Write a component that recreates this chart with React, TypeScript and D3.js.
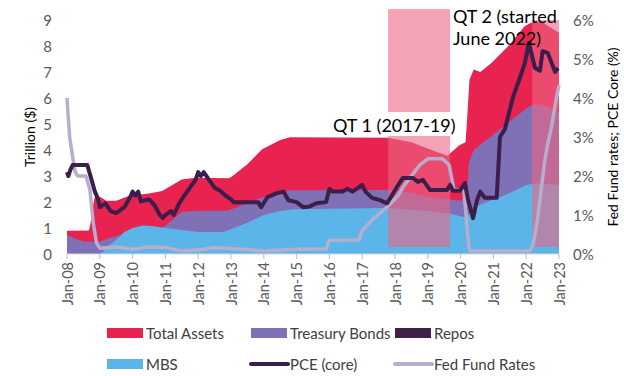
import React from "react";
import * as d3 from "d3";

// ---- Data (dates as decimal years) ----
const years = d3.range(2008, 2024);
const leftTicks = [0, 1, 2, 3, 4, 5, 6, 7, 8, 9];
const rightTicks = [0, 1, 2, 3, 4, 5, 6];

const totalAssets: [number, number][] = [
  [2008.0, 0.89], [2008.67, 0.9], [2008.72, 1.2], [2008.78, 1.8], [2008.85, 2.2], [2009.0, 2.2],
  [2009.2, 2.05], [2009.5, 2.05], [2009.9, 2.24], [2010.5, 2.33], [2010.9, 2.42], [2011.5, 2.87],
  [2011.9, 2.93], [2012.9, 2.91], [2013.0, 2.95], [2013.5, 3.45], [2013.95, 4.03], [2014.5, 4.38],
  [2014.8, 4.49], [2017.8, 4.47], [2018.5, 4.3], [2018.95, 4.08], [2019.6, 3.78], [2019.95, 4.17],
  [2020.15, 4.3], [2020.2, 5.2], [2020.27, 6.7], [2020.4, 7.1], [2020.6, 7.0], [2020.95, 7.36],
  [2021.5, 8.06], [2021.95, 8.76], [2022.25, 8.96], [2022.5, 8.9], [2022.95, 8.55], [2023.0, 8.5],
];

const repos: [number, number][] = [
  [2008.0, 0.04], [2008.5, 0.1], [2008.9, 0.08], [2009.5, 0], [2019.7, 0], [2019.8, 0.2],
  [2020.0, 0.25], [2020.3, 0.1], [2020.5, 0], [2023.0, 0],
];

const treasury: [number, number][] = [
  [2008.0, 0.74], [2008.25, 0.6], [2008.5, 0.48], [2009.0, 0.48], [2009.25, 0.6], [2009.75, 0.77],
  [2010.0, 0.78], [2010.75, 0.8], [2010.9, 1.0], [2011.0, 1.1], [2011.5, 1.62], [2012.0, 1.66],
  [2012.9, 1.66], [2013.5, 1.95], [2014.0, 2.2], [2014.8, 2.45], [2017.8, 2.46], [2018.5, 2.35],
  [2019.0, 2.2], [2019.7, 2.1], [2020.0, 2.05], [2020.2, 2.2], [2020.25, 3.5], [2020.4, 4.0],
  [2021.0, 4.6], [2021.5, 5.1], [2022.0, 5.6], [2022.2, 5.75], [2022.5, 5.75], [2023.0, 5.45],
];

const mbs: [number, number][] = [
  [2008.0, 0], [2009.0, 0], [2009.1, 0.1], [2009.25, 0.3], [2009.5, 0.55], [2009.75, 0.85],
  [2010.0, 1.0], [2010.3, 1.1], [2010.6, 1.08], [2011.0, 1.0], [2011.5, 0.92], [2012.0, 0.85],
  [2012.75, 0.85], [2013.0, 0.95], [2013.5, 1.2], [2014.0, 1.5], [2014.5, 1.65], [2014.9, 1.72],
  [2017.8, 1.77], [2018.5, 1.7], [2019.0, 1.65], [2019.7, 1.55], [2020.15, 1.4], [2020.3, 1.6],
  [2020.5, 1.85], [2021.0, 2.1], [2021.5, 2.35], [2022.0, 2.65], [2022.3, 2.72], [2023.0, 2.65],
];

const pceCore: [number, number][] = [
  [2008.0, 2.1], [2008.04, 2.0], [2008.1, 2.15], [2008.17, 2.28], [2008.4, 2.28], [2008.62, 2.28],
  [2008.75, 1.9], [2008.85, 1.6], [2008.95, 1.4], [2009.0, 1.2], [2009.17, 1.3], [2009.33, 1.1],
  [2009.5, 1.05], [2009.75, 1.2], [2009.92, 1.45], [2010.0, 1.6], [2010.08, 1.5], [2010.17, 1.6],
  [2010.25, 1.35], [2010.5, 1.4], [2010.67, 1.25], [2010.83, 1.0], [2010.92, 0.92], [2011.0, 1.0],
  [2011.17, 1.1], [2011.25, 1.0], [2011.42, 1.3], [2011.58, 1.5], [2011.75, 1.7], [2011.92, 1.9],
  [2012.0, 2.1], [2012.08, 2.0], [2012.17, 2.1], [2012.33, 1.9], [2012.5, 1.7], [2012.67, 1.62],
  [2012.83, 1.5], [2013.0, 1.4], [2013.08, 1.33], [2013.5, 1.33], [2013.83, 1.33], [2013.92, 1.2],
  [2014.1, 1.45], [2014.4, 1.56], [2014.6, 1.6], [2014.75, 1.38], [2015.0, 1.33], [2015.2, 1.2],
  [2015.4, 1.22], [2015.6, 1.3], [2015.9, 1.33], [2016.0, 1.67], [2016.1, 1.6], [2016.4, 1.6],
  [2016.55, 1.67], [2016.7, 1.6], [2017.0, 1.77], [2017.1, 1.6], [2017.3, 1.44], [2017.54, 1.38],
  [2017.76, 1.3], [2018.06, 1.72], [2018.24, 1.95], [2018.55, 1.95], [2018.7, 1.85], [2018.85, 1.9],
  [2019.07, 1.64], [2019.58, 1.64], [2019.68, 1.77], [2019.77, 1.62], [2019.98, 1.62], [2020.13, 1.82],
  [2020.23, 1.38], [2020.38, 0.92], [2020.5, 1.38], [2020.6, 1.6], [2020.74, 1.44], [2021.1, 1.44],
  [2021.2, 3.0], [2021.35, 3.2], [2021.6, 4.03], [2021.8, 4.5], [2021.96, 4.9], [2022.08, 5.41],
  [2022.27, 4.77], [2022.42, 4.7], [2022.5, 5.2], [2022.66, 5.15], [2022.88, 4.67], [2022.97, 4.77],
];

const fedFunds: [number, number][] = [
  [2008.0, 4.0], [2008.08, 3.0], [2008.17, 2.5], [2008.25, 2.1], [2008.33, 2.0], [2008.58, 2.0],
  [2008.7, 1.64], [2008.8, 0.8], [2008.9, 0.28], [2009.0, 0.15], [2009.5, 0.18], [2010.0, 0.12],
  [2010.5, 0.18], [2011.0, 0.17], [2011.5, 0.08], [2012.0, 0.1], [2012.5, 0.16], [2013.0, 0.14],
  [2014.0, 0.08], [2015.0, 0.12], [2015.9, 0.13], [2016.0, 0.35], [2016.9, 0.36], [2017.0, 0.6],
  [2017.3, 0.87], [2017.75, 1.2], [2018.1, 1.5], [2018.25, 1.72], [2018.75, 2.28], [2019.0, 2.44],
  [2019.45, 2.44], [2019.65, 2.28], [2019.8, 1.64], [2020.1, 1.64], [2020.25, 0.18], [2020.3, 0.08],
  [2021.0, 0.08], [2022.1, 0.08], [2022.2, 0.2], [2022.33, 0.8], [2022.45, 1.6], [2022.55, 2.3],
  [2022.65, 2.8], [2022.78, 3.3], [2022.9, 3.9], [2023.0, 4.33],
];

// shaded QT periods: [start, end, low, high] in left-axis units
const qtPeriods: [number, number, number, number][] = [
  [2017.79, 2019.68, 0.27, 9.42],
  [2022.18, 2023.0, 0.27, 9.0],
];

const legendItems = [
  { label: "Total Assets", color: "#e8234f", kind: "box" },
  { label: "Treasury Bonds", color: "#8070b5", kind: "box" },
  { label: "Repos", color: "#3d2147", kind: "box" },
  { label: "MBS", color: "#5bb5e8", kind: "box" },
  { label: "PCE (core)", color: "#3b1f4a", kind: "line" },
  { label: "Fed Fund Rates", color: "#b8adcc", kind: "line" },
];

const fmtYear = (y: number) => `Jan-${String(y % 100).padStart(2, "0")}`;

export default function App() {
  const W = 624, H = 376;
  const font = "Lato, 'Open Sans', sans-serif";
  const x = d3.scaleLinear().domain([2008, 2023]).range([67, 559]);
  const yL = d3.scaleLinear().domain([0, 9]).range([254, 20]);
  const yR = d3.scaleLinear().domain([0, 6]).range([254, 20]);

  const areaL = d3.area<[number, number]>().x(d => x(d[0])).y0(yL(0)).y1(d => yL(d[1]));
  const lineR = d3.line<[number, number]>().x(d => x(d[0])).y(d => yR(d[1])).curve(d3.curveLinear);

  const legX = [107, 251, 395];
  const legY = [333, 364];

  return (
    <div style={{ position: "fixed", left: 0, top: 0, width: W, height: H, background: "#fff" }}>
      <svg width={W} height={H} style={{ display: "block", fontFamily: font }}>
        <rect width={W} height={H} fill="#fff" />
        {/* areas */}
        <path d={areaL(totalAssets) || ""} fill="#e8234f" />
        <path d={areaL(repos) || ""} fill="#3d2147" />
        <path d={areaL(treasury) || ""} fill="#8070b5" />
        <path d={areaL(mbs) || ""} fill="#5bb5e8" />

        {/* QT shading */}
        {qtPeriods.map((q, i) => (
          <rect key={i} x={x(q[0])} width={x(q[1]) - x(q[0])} y={yL(q[3])} height={yL(q[2]) - yL(q[3])}
            fill="rgb(237,102,133)" fillOpacity={0.6} />
        ))}

        {/* lines */}
        <path d={lineR(fedFunds) || ""} fill="none" stroke="#b8adcc" strokeWidth={3.5} strokeLinejoin="round" />
        <path d={lineR(pceCore) || ""} fill="none" stroke="#3b1f4a" strokeWidth={4} strokeLinejoin="round" />

        {/* x axis */}
        <line x1={x(2008)} x2={x(2023)} y1={yL(0)} y2={yL(0)} stroke="#d9d9d9" strokeWidth={1} />
        {years.map(yr => (
          <g key={yr}>
            <line x1={x(yr)} x2={x(yr)} y1={yL(0)} y2={yL(0) + 5} stroke="#bfbfbf" />
            <text transform={`translate(${x(yr)},${yL(0) + 8}) rotate(-90)`} textAnchor="end"
              dominantBaseline="central" fontSize={14.5} fill="#595959">{fmtYear(yr)}</text>
          </g>
        ))}

        {/* left axis */}
        {leftTicks.map(t => (
          <text key={t} x={52} y={yL(t)} textAnchor="end" dominantBaseline="central" fontSize={15} fill="#595959">{t}</text>
        ))}
        <text transform={`translate(29,137) rotate(-90)`} textAnchor="middle" dominantBaseline="central"
          fontSize={14} fill="#000">Trillion ($)</text>

        {/* right axis */}
        {rightTicks.map(t => (
          <text key={t} x={573} y={yR(t)} textAnchor="start" dominantBaseline="central" fontSize={15} fill="#595959">{t}%</text>
        ))}
        <text transform={`translate(612,137) rotate(-90)`} textAnchor="middle" dominantBaseline="central"
          fontSize={14} fill="#000">Fed Fund rates; PCE Core (%)</text>

        {/* annotations */}
        <rect x={331} y={112} width={x(qtPeriods[0][1]) - 331} height={24} fill="#fff" />
        <text x={333} y={132} fontSize={18} fill="#000">QT 1 (2017-19)</text>
        <text x={453} y={23} fontSize={18} fill="#000">QT 2 (started</text>
        <text x={453} y={45} fontSize={18} fill="#000">June 2022)</text>

        {/* legend */}
        {legendItems.map((it, i) => {
          const lx = legX[i % 3];
          const ly = legY[Math.floor(i / 3)];
          return (
            <g key={it.label}>
              {it.kind === "box" ? (
                <rect x={lx} y={ly - 5} width={36} height={10} fill={it.color} />
              ) : (
                <line x1={lx} x2={lx + 37} y1={ly} y2={ly} stroke={it.color} strokeWidth={4} strokeLinecap="round" />
              )}
              <text x={lx + 39} y={ly} dominantBaseline="central" fontSize={15} fill="#404040">{it.label}</text>
            </g>
          );
        })}
      </svg>
    </div>
  );
}
